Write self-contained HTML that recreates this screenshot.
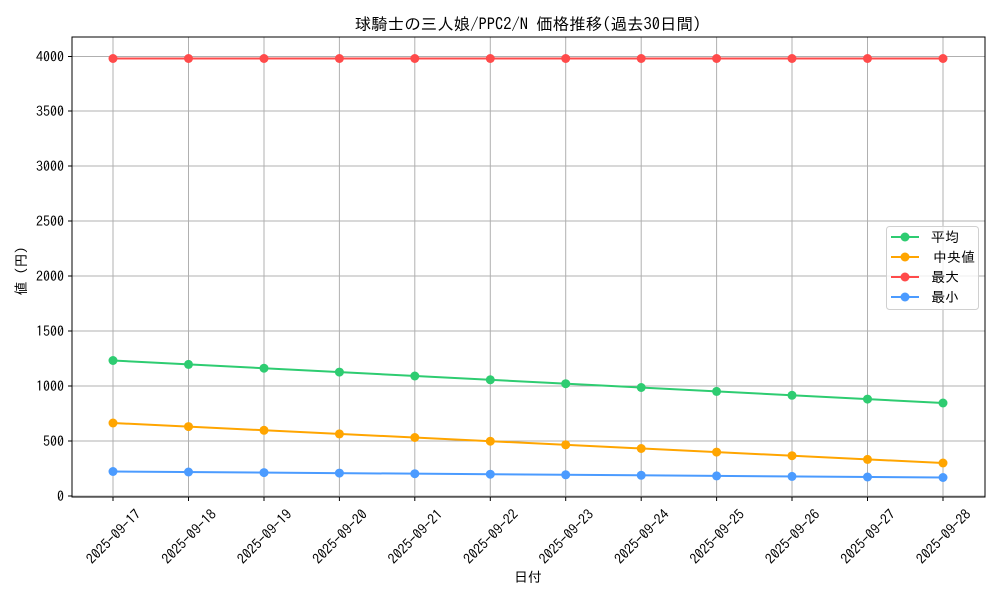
<!DOCTYPE html><html><head><meta charset="utf-8"><style>body{margin:0;background:#fff}svg text{font-family:"IPAGothic","Noto Sans CJK JP",sans-serif;fill:#000}</style></head><body>
<svg width="1000" height="600" xmlns="http://www.w3.org/2000/svg">
<rect width="1000" height="600" fill="#fff"/>
<text x="528" y="30" font-size="16.5" text-anchor="middle">球騎士の三人娘/PPC2/N 価格推移(過去30日間)</text>
<g stroke="#b0b0b0" stroke-width="1">
<line x1="72" x2="985" y1="496" y2="496"/><line x1="72" x2="985" y1="441" y2="441"/><line x1="72" x2="985" y1="386" y2="386"/><line x1="72" x2="985" y1="331" y2="331"/><line x1="72" x2="985" y1="276" y2="276"/><line x1="72" x2="985" y1="221" y2="221"/><line x1="72" x2="985" y1="166" y2="166"/><line x1="72" x2="985" y1="111" y2="111"/><line x1="72" x2="985" y1="56.5" y2="56.5"/>
<line y1="37" y2="497" x1="113" x2="113"/><line y1="37" y2="497" x1="188.5" x2="188.5"/><line y1="37" y2="497" x1="264" x2="264"/><line y1="37" y2="497" x1="339.4" x2="339.4"/><line y1="37" y2="497" x1="414.8" x2="414.8"/><line y1="37" y2="497" x1="490.3" x2="490.3"/><line y1="37" y2="497" x1="565.7" x2="565.7"/><line y1="37" y2="497" x1="641.2" x2="641.2"/><line y1="37" y2="497" x1="716.6" x2="716.6"/><line y1="37" y2="497" x1="792" x2="792"/><line y1="37" y2="497" x1="867.5" x2="867.5"/><line y1="37" y2="497" x1="943" x2="943"/>
</g>
<rect x="72" y="37" width="913" height="460" fill="none" stroke="#000" stroke-width="1"/>
<g stroke="#000"><line x1="68" x2="72" y1="496" y2="496"/><line x1="68" x2="72" y1="441" y2="441"/><line x1="68" x2="72" y1="386" y2="386"/><line x1="68" x2="72" y1="331" y2="331"/><line x1="68" x2="72" y1="276" y2="276"/><line x1="68" x2="72" y1="221" y2="221"/><line x1="68" x2="72" y1="166" y2="166"/><line x1="68" x2="72" y1="111" y2="111"/><line x1="68" x2="72" y1="56.5" y2="56.5"/>
<line y1="497" y2="501" x1="113" x2="113"/><line y1="497" y2="501" x1="188.5" x2="188.5"/><line y1="497" y2="501" x1="264" x2="264"/><line y1="497" y2="501" x1="339.4" x2="339.4"/><line y1="497" y2="501" x1="414.8" x2="414.8"/><line y1="497" y2="501" x1="490.3" x2="490.3"/><line y1="497" y2="501" x1="565.7" x2="565.7"/><line y1="497" y2="501" x1="641.2" x2="641.2"/><line y1="497" y2="501" x1="716.6" x2="716.6"/><line y1="497" y2="501" x1="792" x2="792"/><line y1="497" y2="501" x1="867.5" x2="867.5"/><line y1="497" y2="501" x1="943" x2="943"/></g>
<g font-size="14" text-anchor="end"><text x="64" y="501">0</text><text x="64" y="446">500</text><text x="64" y="391">1000</text><text x="64" y="336">1500</text><text x="64" y="281">2000</text><text x="64" y="226">2500</text><text x="64" y="171">3000</text><text x="64" y="116">3500</text><text x="64" y="61.5">4000</text></g>
<g font-size="14" text-anchor="middle">
<text transform="translate(117,540) rotate(-45)">2025-09-17</text><text transform="translate(192.5,540) rotate(-45)">2025-09-18</text><text transform="translate(268,540) rotate(-45)">2025-09-19</text><text transform="translate(343.4,540) rotate(-45)">2025-09-20</text><text transform="translate(418.8,540) rotate(-45)">2025-09-21</text><text transform="translate(494.3,540) rotate(-45)">2025-09-22</text><text transform="translate(569.7,540) rotate(-45)">2025-09-23</text><text transform="translate(645.2,540) rotate(-45)">2025-09-24</text><text transform="translate(720.6,540) rotate(-45)">2025-09-25</text><text transform="translate(796,540) rotate(-45)">2025-09-26</text><text transform="translate(871.5,540) rotate(-45)">2025-09-27</text><text transform="translate(947,540) rotate(-45)">2025-09-28</text>
</g>
<text x="528" y="582" font-size="14" text-anchor="middle">日付</text>
<text transform="translate(26,271) rotate(-90)" font-size="14" text-anchor="middle">値 (円)</text>
<polyline fill="none" stroke="#ff4b4b" stroke-width="2" points="113,58.5 943,58.5"/>
<g fill="#ff4b4b"><circle cx="113" cy="58.5" r="4.5"/><circle cx="188.5" cy="58.5" r="4.5"/><circle cx="264" cy="58.5" r="4.5"/><circle cx="339.4" cy="58.5" r="4.5"/><circle cx="414.8" cy="58.5" r="4.5"/><circle cx="490.3" cy="58.5" r="4.5"/><circle cx="565.7" cy="58.5" r="4.5"/><circle cx="641.2" cy="58.5" r="4.5"/><circle cx="716.6" cy="58.5" r="4.5"/><circle cx="792" cy="58.5" r="4.5"/><circle cx="867.5" cy="58.5" r="4.5"/><circle cx="943" cy="58.5" r="4.5"/></g>
<polyline fill="none" stroke="#2ecc71" stroke-width="2" points="113,360.5 943,403"/>
<g fill="#2ecc71"><circle cx="113" cy="360.5" r="4.5"/><circle cx="188.5" cy="364.4" r="4.5"/><circle cx="264" cy="368.2" r="4.5"/><circle cx="339.4" cy="372.1" r="4.5"/><circle cx="414.8" cy="376" r="4.5"/><circle cx="490.3" cy="379.8" r="4.5"/><circle cx="565.7" cy="383.7" r="4.5"/><circle cx="641.2" cy="387.5" r="4.5"/><circle cx="716.6" cy="391.4" r="4.5"/><circle cx="792" cy="395.3" r="4.5"/><circle cx="867.5" cy="399.1" r="4.5"/><circle cx="943" cy="403" r="4.5"/></g>
<polyline fill="none" stroke="#ffa500" stroke-width="2" points="113,423 943,463"/>
<g fill="#ffa500"><circle cx="113" cy="423" r="4.5"/><circle cx="188.5" cy="426.6" r="4.5"/><circle cx="264" cy="430.3" r="4.5"/><circle cx="339.4" cy="433.9" r="4.5"/><circle cx="414.8" cy="437.5" r="4.5"/><circle cx="490.3" cy="441.2" r="4.5"/><circle cx="565.7" cy="444.8" r="4.5"/><circle cx="641.2" cy="448.5" r="4.5"/><circle cx="716.6" cy="452.1" r="4.5"/><circle cx="792" cy="455.7" r="4.5"/><circle cx="867.5" cy="459.4" r="4.5"/><circle cx="943" cy="463" r="4.5"/></g>
<polyline fill="none" stroke="#4b9bff" stroke-width="2" points="113,471.5 943,477.5"/>
<g fill="#4b9bff"><circle cx="113" cy="471.5" r="4.5"/><circle cx="188.5" cy="472" r="4.5"/><circle cx="264" cy="472.6" r="4.5"/><circle cx="339.4" cy="473.1" r="4.5"/><circle cx="414.8" cy="473.7" r="4.5"/><circle cx="490.3" cy="474.2" r="4.5"/><circle cx="565.7" cy="474.8" r="4.5"/><circle cx="641.2" cy="475.3" r="4.5"/><circle cx="716.6" cy="475.9" r="4.5"/><circle cx="792" cy="476.4" r="4.5"/><circle cx="867.5" cy="477" r="4.5"/><circle cx="943" cy="477.5" r="4.5"/></g>
<rect x="886.5" y="226.5" width="92" height="83" rx="3" fill="#fff" fill-opacity="0.8" stroke="#d0d0d0"/>
<g stroke-width="2"><line x1="891" x2="919" y1="237" y2="237" stroke="#2ecc71"/><line x1="891" x2="919" y1="257" y2="257" stroke="#ffa500"/><line x1="891" x2="919" y1="277" y2="277" stroke="#ff4b4b"/><line x1="891" x2="919" y1="297" y2="297" stroke="#4b9bff"/></g>
<circle cx="905" cy="237" r="4.5" fill="#2ecc71"/><circle cx="905" cy="257" r="4.5" fill="#ffa500"/><circle cx="905" cy="277" r="4.5" fill="#ff4b4b"/><circle cx="905" cy="297" r="4.5" fill="#4b9bff"/>
<g font-size="14"><text x="931" y="242">平均</text><text x="933" y="262">中央値</text><text x="931" y="282">最大</text><text x="931" y="302">最小</text></g>
</svg></body></html>
